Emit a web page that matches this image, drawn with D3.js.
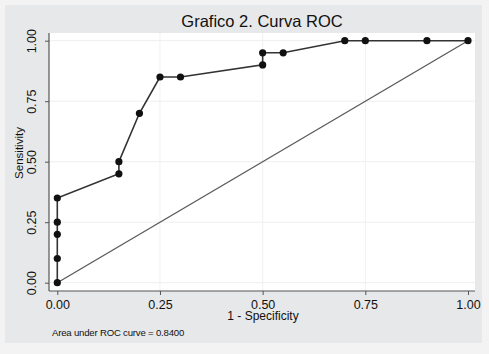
<!DOCTYPE html>
<html>
<head>
<meta charset="utf-8">
<script src="https://cdn.jsdelivr.net/npm/d3@7"></script>
<style>
  html, body { margin: 0; padding: 0; background: #f3f3f3; }
  svg { display: block; font-family: "Liberation Sans", Arial, sans-serif; }
</style>
</head>
<body>
<svg id="chart" width="489" height="354"></svg>
<script>
// ROC points (1 - specificity, sensitivity)
const fpr = [0, 0, 0, 0, 0, 0.15, 0.15, 0.20, 0.25, 0.30, 0.50, 0.50, 0.55, 0.70, 0.75, 0.90, 1.00];
const tpr = [0, 0.10, 0.20, 0.25, 0.35, 0.45, 0.50, 0.70, 0.85, 0.85, 0.90, 0.95, 0.95, 1.00, 1.00, 1.00, 1.00];
const ticks = [0, 0.25, 0.5, 0.75, 1];
const title = "Grafico 2. Curva ROC";
const xLabel = "1 - Specificity";
const yLabel = "Sensitivity";
const note = "Area under ROC curve = 0.8400";

const svg = d3.select("#chart");

// outer frame
svg.append("rect").attr("x", 5).attr("y", 5).attr("width", 477).attr("height", 338)
  .attr("fill", "#e7e8e9");

// plot region
const plot = { left: 49, top: 33, right: 475, bottom: 291 };
svg.append("rect")
  .attr("x", plot.left).attr("y", plot.top)
  .attr("width", plot.right - plot.left).attr("height", plot.bottom - plot.top)
  .attr("fill", "#fff");

const x = d3.scaleLinear().domain([0, 1]).range([57.3, 468]);
const y = d3.scaleLinear().domain([0, 1]).range([282.7, 40.7]);

// grid
svg.append("g").selectAll("line.h").data(ticks).join("line")
  .attr("x1", plot.left).attr("x2", plot.right)
  .attr("y1", d => y(d)).attr("y2", d => y(d))
  .attr("stroke", "#eeeeee").attr("stroke-width", 1);
svg.append("g").selectAll("line.v").data(ticks.slice(1, 4)).join("line")
  .attr("y1", plot.top).attr("y2", plot.bottom)
  .attr("x1", d => x(d)).attr("x2", d => x(d))
  .attr("stroke", "#f0f0f0").attr("stroke-width", 1);

// axes
const xAxis = svg.append("g").attr("transform", `translate(0,${plot.bottom})`)
  .call(d3.axisBottom(x).tickValues(ticks).tickFormat(d3.format(".2f")).tickSize(4));
xAxis.select(".domain").attr("d", `M${plot.left},0H${plot.right}`);
const yAxis = svg.append("g").attr("transform", `translate(${plot.left},0)`)
  .call(d3.axisLeft(y).tickValues(ticks).tickFormat(d3.format(".2f")).tickSize(4));
yAxis.select(".domain").attr("d", `M0,${plot.top}V${plot.bottom}`);

[xAxis, yAxis].forEach(a => {
  a.select(".domain").attr("stroke", "#555").attr("stroke-width", 1.2);
  a.selectAll(".tick line").attr("stroke", "#555");
  a.selectAll("text").attr("fill", "#111").attr("font-size", 12.5)
    .attr("font-family", "\"Liberation Sans\", Arial, sans-serif");
});
xAxis.selectAll(".tick text").attr("y", 17.5).attr("dy", null);
yAxis.selectAll(".tick text")
  .attr("x", null).attr("dy", null)
  .attr("text-anchor", "middle")
  .attr("transform", "translate(-17,0) rotate(-90)")
  .attr("dominant-baseline", "central");

// diagonal reference
svg.append("line")
  .attr("x1", x(0)).attr("y1", y(0)).attr("x2", x(1)).attr("y2", y(1))
  .attr("stroke", "#5a5a5a").attr("stroke-width", 1.3);

// ROC curve
const pts = fpr.map((f, i) => [f, tpr[i]]);
svg.append("path").datum(pts)
  .attr("d", d3.line().x(d => x(d[0])).y(d => y(d[1])))
  .attr("fill", "none").attr("stroke", "#333").attr("stroke-width", 1.6);
svg.append("g").selectAll("circle").data(pts).join("circle")
  .attr("cx", d => x(d[0])).attr("cy", d => y(d[1])).attr("r", 3.6)
  .attr("fill", "#111");

// texts
svg.append("text").attr("x", 262).attr("y", 27).attr("text-anchor", "middle")
  .attr("font-size", 16.5).attr("fill", "#111").text(title);
svg.append("text").attr("x", 263).attr("y", 320).attr("text-anchor", "middle")
  .attr("font-size", 12).attr("fill", "#111").text(xLabel);
svg.append("text").attr("transform", "translate(23,153) rotate(-90)")
  .attr("text-anchor", "middle").attr("font-size", 11.5).attr("fill", "#111").text(yLabel);
svg.append("text").attr("x", 52).attr("y", 336)
  .attr("font-size", 9.6).attr("fill", "#111").attr("letter-spacing", -0.2).text(note);
</script>
</body>
</html>
